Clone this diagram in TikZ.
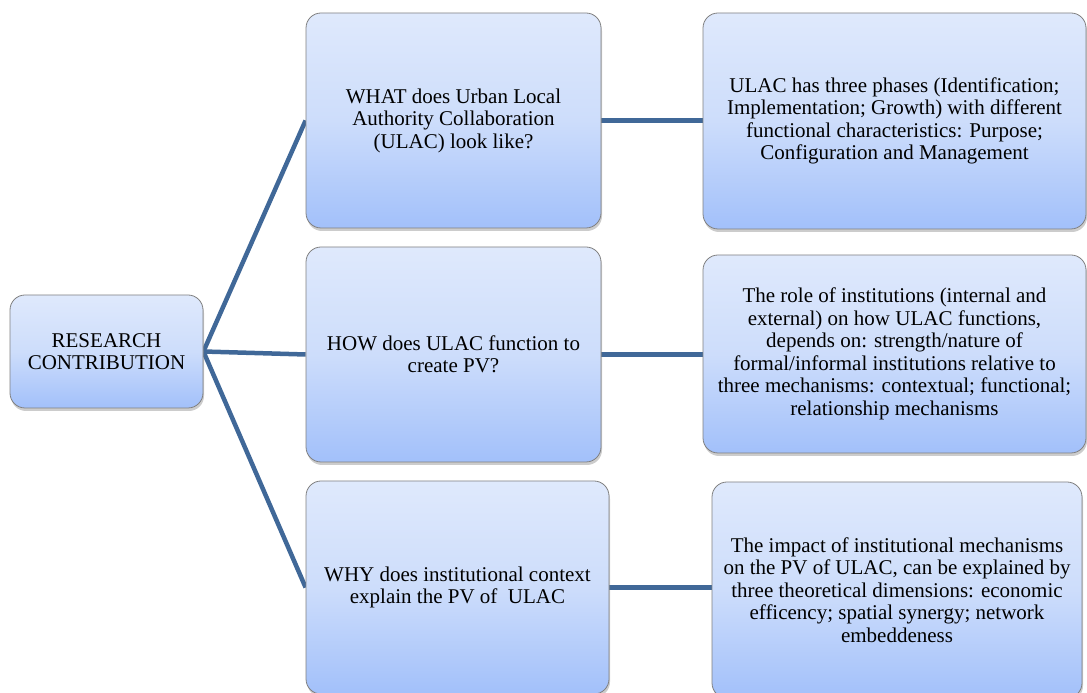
\documentclass[tikz,border=0pt]{standalone}
\usepackage{fontspec}
\setmainfont{Liberation Serif}
\usetikzlibrary{shadows,backgrounds}
\definecolor{boxtop}{RGB}{223,233,252}
\definecolor{boxmid}{RGB}{205,221,251}
\definecolor{boxbot}{RGB}{162,192,250}
\definecolor{boxedge}{RGB}{128,128,128}
\definecolor{linkblue}{RGB}{64,104,152}
\tikzset{
  box/.style={draw=boxedge, line width=0.8pt, rounded corners=15pt,
    top color=boxtop, bottom color=boxbot, middle color=boxmid,
    drop shadow={opacity=0.4, shadow xshift=1pt, shadow yshift=-3pt},
    inner sep=0pt, align=center,
    execute at begin node={\rule{0pt}{20pt}},
    font=\fontsize{21}{22.5}\selectfont},
  link/.style={draw=linkblue, line width=4.5pt}
}
\begin{document}
\begin{tikzpicture}[x=1pt,y=1pt]
\useasboundingbox (0,0) rectangle (1087,693);
% root
\node[box, minimum width=193pt, minimum height=113pt] (root) at (106.5,341.5)
  {RESEARCH\\CONTRIBUTION};
% questions
\node[box, minimum width=295pt, minimum height=215pt] (what) at (453.5,572.5)
  {WHAT does Urban Local\\Authority Collaboration\\(ULAC) look like?};
\node[box, minimum width=295pt, minimum height=215pt] (how) at (453.5,338.5)
  {HOW does ULAC function to\\create PV?};
\node[box, minimum width=303pt, minimum height=213pt] (why) at (457.5,105.5)
  {WHY does institutional context\\explain the PV of\ \ ULAC};
% answers
\node[box, minimum width=383pt, minimum height=216pt] (ans1) at (894.5,572)
  {ULAC has three phases (Identification;\\Implementation; Growth) with different\\functional characteristics: Purpose;\\Configuration and Management};
\node[box, minimum width=383pt, minimum height=198pt] (ans2) at (894.5,339)
  {The role of institutions (internal and\\external) on how ULAC functions,\\depends on: strength/nature of\\formal/informal institutions relative to\\three mechanisms: contextual; functional;\\relationship mechanisms};
\node[box, minimum width=370pt, minimum height=216pt] (ans3) at (897,103)
  {The impact of institutional mechanisms\\on the PV of ULAC, can be explained by\\three theoretical dimensions: economic\\efficency; spatial synergy; network\\embeddeness};
% connectors
\begin{scope}[on background layer]
\draw[link] (root.east) -- (what.west);
\draw[link] (root.east) -- (how.west);
\draw[link] (root.east) -- (why.west);
\draw[link] (what.east) -- (what.east -| ans1.west);
\draw[link] (how.east) -- (how.east -| ans2.west);
\draw[link] (why.east) -- (why.east -| ans3.west);
\end{scope}
\end{tikzpicture}
\end{document}
